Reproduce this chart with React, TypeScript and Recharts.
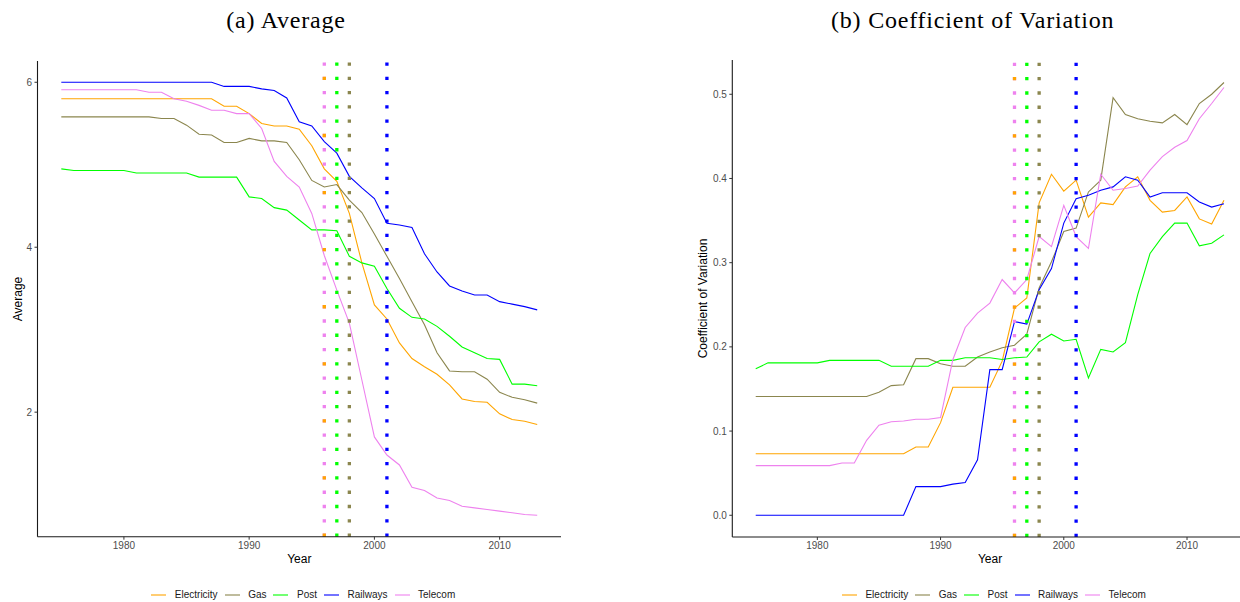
import React from 'react';
import { LineChart, Line, XAxis, YAxis, ReferenceLine } from 'recharts';

const years = [
  1975, 1976, 1977, 1978, 1979, 1980, 1981, 1982, 1983, 1984,
  1985, 1986, 1987, 1988, 1989, 1990, 1991, 1992, 1993, 1994,
  1995, 1996, 1997, 1998, 1999, 2000, 2001, 2002, 2003, 2004,
  2005, 2006, 2007, 2008, 2009, 2010, 2011, 2012, 2013,
];

const seriesNames = ['Electricity', 'Gas', 'Post', 'Railways', 'Telecom'];
const seriesColors = ['#FFA500', '#8B864E', '#00FF00', '#0000FF', '#EE82EE'];
const reformYears = [1996, 1998, 1997, 2001, 1996];

// (a) Average
const avgElectricity = [
  5.80, 5.80, 5.80, 5.80, 5.80, 5.80, 5.80, 5.80, 5.80, 5.80,
  5.80, 5.80, 5.80, 5.71, 5.71, 5.62, 5.50, 5.47, 5.47, 5.43,
  5.23, 4.95, 4.80, 4.41, 3.81, 3.30, 3.13, 2.84, 2.65, 2.55,
  2.46, 2.33, 2.16, 2.13, 2.12, 1.98, 1.91, 1.89, 1.85,
];
const avgGas = [
  5.58, 5.58, 5.58, 5.58, 5.58, 5.58, 5.58, 5.58, 5.56, 5.56,
  5.48, 5.37, 5.36, 5.27, 5.27, 5.32, 5.29, 5.29, 5.27, 5.06,
  4.81, 4.73, 4.76, 4.57, 4.42, 4.16, 3.89, 3.62, 3.34, 3.06,
  2.72, 2.50, 2.49, 2.49, 2.40, 2.24, 2.18, 2.15, 2.11,
];
const avgPost = [
  4.95, 4.93, 4.93, 4.93, 4.93, 4.93, 4.90, 4.90, 4.90, 4.90,
  4.90, 4.85, 4.85, 4.85, 4.85, 4.61, 4.59, 4.48, 4.45, 4.33,
  4.21, 4.21, 4.20, 3.89, 3.81, 3.77, 3.50, 3.26, 3.15, 3.13,
  3.04, 2.92, 2.79, 2.72, 2.65, 2.64, 2.34, 2.34, 2.32,
];
const avgRailways = [
  6.00, 6.00, 6.00, 6.00, 6.00, 6.00, 6.00, 6.00, 6.00, 6.00,
  6.00, 6.00, 6.00, 5.95, 5.95, 5.95, 5.92, 5.90, 5.81, 5.52,
  5.47, 5.28, 5.14, 4.86, 4.72, 4.59, 4.29, 4.27, 4.24, 3.92,
  3.70, 3.53, 3.47, 3.42, 3.42, 3.34, 3.31, 3.28, 3.24,
];
const avgTelecom = [
  5.91, 5.91, 5.91, 5.91, 5.91, 5.91, 5.91, 5.88, 5.88, 5.80,
  5.77, 5.72, 5.66, 5.66, 5.62, 5.62, 5.44, 5.04, 4.86, 4.73,
  4.41, 3.90, 3.48, 3.08, 2.39, 1.70, 1.48, 1.36, 1.09, 1.05,
  0.96, 0.93, 0.86, 0.84, 0.82, 0.80, 0.78, 0.76, 0.75,
];

// (b) Coefficient of Variation
const cvElectricity = [
  0.073, 0.073, 0.073, 0.073, 0.073, 0.073, 0.073, 0.073, 0.073, 0.073,
  0.073, 0.073, 0.073, 0.081, 0.081, 0.110, 0.152, 0.152, 0.152, 0.152,
  0.183, 0.246, 0.258, 0.371, 0.405, 0.385, 0.398, 0.354, 0.371, 0.369,
  0.390, 0.402, 0.374, 0.360, 0.362, 0.378, 0.352, 0.346, 0.374,
];
const cvGas = [
  0.141, 0.141, 0.141, 0.141, 0.141, 0.141, 0.141, 0.141, 0.141, 0.141,
  0.146, 0.154, 0.155, 0.186, 0.186, 0.180, 0.177, 0.177, 0.188, 0.194,
  0.199, 0.202, 0.215, 0.270, 0.301, 0.337, 0.341, 0.384, 0.398, 0.496,
  0.476, 0.471, 0.468, 0.466, 0.476, 0.464, 0.489, 0.500, 0.514,
];
const cvPost = [
  0.174, 0.181, 0.181, 0.181, 0.181, 0.181, 0.184, 0.184, 0.184, 0.184,
  0.184, 0.177, 0.177, 0.177, 0.177, 0.184, 0.184, 0.187, 0.187, 0.187,
  0.185, 0.187, 0.188, 0.206, 0.215, 0.207, 0.209, 0.163, 0.197, 0.194,
  0.205, 0.262, 0.311, 0.331, 0.347, 0.347, 0.320, 0.323, 0.333,
];
const cvRailways = [
  0.000, 0.000, 0.000, 0.000, 0.000, 0.000, 0.000, 0.000, 0.000, 0.000,
  0.000, 0.000, 0.000, 0.034, 0.034, 0.034, 0.037, 0.039, 0.066, 0.173,
  0.173, 0.230, 0.227, 0.268, 0.293, 0.347, 0.376, 0.380, 0.386, 0.390,
  0.402, 0.398, 0.378, 0.383, 0.383, 0.383, 0.372, 0.366, 0.370,
];
const cvTelecom = [
  0.059, 0.059, 0.059, 0.059, 0.059, 0.059, 0.059, 0.062, 0.062, 0.089,
  0.107, 0.111, 0.112, 0.114, 0.114, 0.116, 0.185, 0.223, 0.240, 0.252,
  0.280, 0.264, 0.280, 0.331, 0.319, 0.368, 0.331, 0.317, 0.405, 0.386,
  0.388, 0.391, 0.410, 0.426, 0.437, 0.445, 0.471, 0.489, 0.508,
];

const xTicks = [1980, 1990, 2000, 2010];
const avgTicks = [2, 4, 6];
const cvTicks = [0, 0.1, 0.2, 0.3, 0.4, 0.5];

const avgSeries = [avgElectricity, avgGas, avgPost, avgRailways, avgTelecom];
const cvSeries = [cvElectricity, cvGas, cvPost, cvRailways, cvTelecom];

function buildRows(series: number[][]) {
  return years.map((year, i) => {
    const row: Record<string, number> = { year };
    seriesNames.forEach((name, k) => {
      row[name] = series[k][i];
    });
    return row;
  });
}

const avgRows = buildRows(avgSeries);
const cvRows = buildRows(cvSeries);

const SANS = '"Liberation Sans", Arial, sans-serif';
const SERIF = '"Liberation Serif", "Times New Roman", serif';

const DOT = '3.3 10.97';
const DOT_SPARSE = '3.3 53.78';

type PanelProps = {
  rows: Record<string, number>[];
  yDomain: [number, number];
  yTicks: number[];
  yWidth: number;
  top: number;
  bottom: number;
  right: number;
  fmt: (v: number) => string;
};

function Panel({ rows, yDomain, yTicks, yWidth, top, bottom, right, fmt }: PanelProps) {
  // draw order of vertical reform lines: Telecom, Post, Gas, Railways, then Electricity on top (sparse)
  const order = [4, 2, 1, 3, 0];
  return (
    <LineChart
      width={600}
      height={602}
      data={rows}
      margin={{ top, right, bottom, left: 0 }}
    >
      <XAxis
        type="number"
        dataKey="year"
        domain={[1973.1, 2014.9]}
        allowDataOverflow
        ticks={xTicks}
        interval={0}
        height={20}
        tickSize={3}
        tickMargin={2}
        axisLine={{ stroke: '#1a1a1a', strokeWidth: 1.1 }}
        tickLine={{ stroke: '#333333', strokeWidth: 1 }}
        tick={{ fill: '#4d4d4d', fontSize: 10, fontFamily: SANS }}
      />
      <YAxis
        type="number"
        domain={yDomain}
        allowDataOverflow
        ticks={yTicks}
        interval={0}
        width={yWidth}
        tickSize={3}
        tickMargin={2.5}
        tickFormatter={fmt}
        axisLine={{ stroke: '#1a1a1a', strokeWidth: 1.1 }}
        tickLine={{ stroke: '#333333', strokeWidth: 1 }}
        tick={{ fill: '#4d4d4d', fontSize: 10, fontFamily: SANS }}
      />
      {seriesNames.map((name, k) => (
        <Line
          key={name}
          type="linear"
          dataKey={name}
          stroke={seriesColors[k]}
          strokeWidth={1.1}
          dot={false}
          activeDot={false}
          isAnimationActive={false}
        />
      ))}
      {order.map((k) => (
        <ReferenceLine
          key={'ref-' + seriesNames[k]}
          x={reformYears[k]}
          stroke={seriesColors[k]}
          strokeWidth={3.3}
          strokeDasharray={k === 0 ? DOT_SPARSE : DOT}
        />
      ))}
    </LineChart>
  );
}

function Legend({ center }: { center: number }) {
  return (
    <div
      style={{
        position: 'absolute',
        left: center - 250,
        width: 500,
        top: 588,
        height: 14,
        display: 'flex',
        justifyContent: 'center',
        alignItems: 'center',
        fontFamily: SANS,
        fontSize: 10,
        color: '#1a1a1a',
        whiteSpace: 'nowrap',
      }}
    >
      {seriesNames.map((name, k) => (
        <div
          key={name}
          style={{ display: 'flex', alignItems: 'center', marginRight: k < seriesNames.length - 1 ? 7 : 0 }}
        >
          <svg width={15} height={4} style={{ display: 'block' }}>
            <line x1={0} y1={2} x2={15} y2={2} stroke={seriesColors[k]} strokeWidth={1.1} />
          </svg>
          <span style={{ marginLeft: 8.5, lineHeight: '14px' }}>{name}</span>
        </div>
      ))}
    </div>
  );
}

export default function App() {
  return (
    <div
      style={{
        position: 'absolute',
        left: 0,
        top: 0,
        width: 1240,
        height: 602,
        overflow: 'hidden',
        background: '#ffffff',
      }}
    >
      <div style={{ position: 'absolute', left: 0, top: 0 }}>
        <Panel
          rows={avgRows}
          yDomain={[0.49, 6.258]}
          yTicks={avgTicks}
          yWidth={37.5}
          top={61}
          bottom={45.3}
          right={39}
          fmt={(v) => String(v)}
        />
      </div>
      <div style={{ position: 'absolute', left: 680, top: 0 }}>
        <Panel
          rows={cvRows}
          yDomain={[-0.0258, 0.5407]}
          yTicks={cvTicks}
          yWidth={52.3}
          top={60}
          bottom={45}
          right={32.6}
          fmt={(v) => v.toFixed(1)}
        />
      </div>
      <svg
        width={1240}
        height={602}
        style={{ position: 'absolute', left: 0, top: 0, pointerEvents: 'none' }}
      >
        <text x={286} y={28.3} textAnchor="middle" fontFamily={SERIF} fontSize={24} letterSpacing={0.8} fill="#000">
          (a) Average
        </text>
        <text x={972.7} y={28.3} textAnchor="middle" fontFamily={SERIF} fontSize={24} letterSpacing={0.8} fill="#000">
          (b) Coefficient of Variation
        </text>
        <text x={299.3} y={563} textAnchor="middle" fontFamily={SANS} fontSize={12} fill="#000">
          Year
        </text>
        <text x={990} y={563} textAnchor="middle" fontFamily={SANS} fontSize={12} fill="#000">
          Year
        </text>
        <text
          transform="translate(17.5,299) rotate(-90)"
          textAnchor="middle"
          dominantBaseline="central"
          fontFamily={SANS}
          fontSize={12}
          fill="#000"
        >
          Average
        </text>
        <text
          transform="translate(703,298.5) rotate(-90)"
          textAnchor="middle"
          dominantBaseline="central"
          fontFamily={SANS}
          fontSize={12}
          fill="#000"
        >
          Coefficient of Variation
        </text>
      </svg>
      <Legend center={303.3} />
      <Legend center={993.9} />
    </div>
  );
}
